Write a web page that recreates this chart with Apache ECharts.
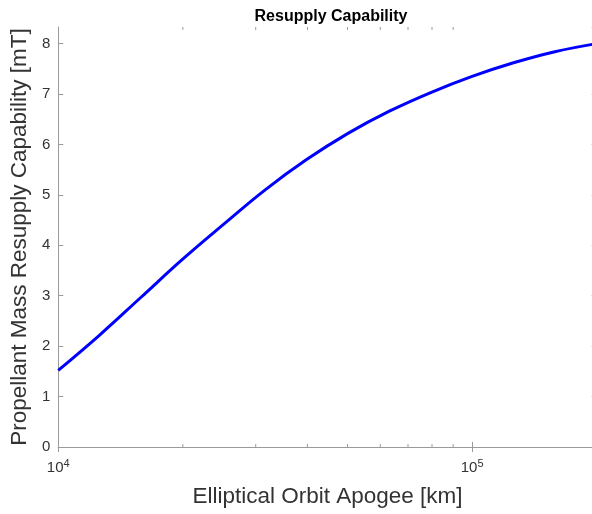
<!DOCTYPE html>
<html>
<head>
<meta charset="utf-8">
<script src="https://cdn.jsdelivr.net/npm/echarts@6/dist/echarts.min.js"></script>
<style>html,body{margin:0;padding:0;background:#fff;overflow:hidden;width:592px;height:514px}#c{width:600px;height:514px}</style>
</head>
<body>
<div id="c"></div>
<script>
const apogeeKm = [10000, 12589, 15849, 19953, 25119, 31623, 39811, 50119, 63096, 79433, 100000, 125893, 158489, 200000];
const resupplyMT = [1.52, 2.22, 2.97, 3.72, 4.42, 5.10, 5.70, 6.22, 6.66, 7.03, 7.35, 7.62, 7.84, 8.00];
const xMajorTicks = [10000, 100000];
const xMinorTicks = [20000, 30000, 40000, 50000, 60000, 70000, 80000, 90000];
const yTickLabels = ['0', '1', '2', '3', '4', '5', '6', '7', '8'];
const titleText = 'Resupply Capability';
const xTitle = 'Elliptical Orbit Apogee [km]';
const yTitle = 'Propellant Mass Resupply Capability [mT]';

const FONT = "'Liberation Sans', Arial, sans-serif";
const AX = '#9a9a9a';
const TXT = '#333333';

const chart = echarts.init(document.getElementById('c'), null, {renderer: 'canvas'});

function xLabel(v) {
  const e = Math.round(Math.log10(v));
  if (xMajorTicks.some(t => Math.abs(t - v) / t < 1e-6)) return '10{sup|' + e + '}';
  return '';
}
function yLabel(v) {
  const i = Math.round(v);
  if (Math.abs(v - i) < 1e-6 && yTickLabels.indexOf(String(i)) >= 0) return String(i);
  return '';
}

const xBase = {
  type: 'log', logBase: 10, min: 10000, max: 200000, gridIndex: 0,
  axisLine: {show: true, lineStyle: {color: AX, width: 1}},
  axisTick: {show: true, inside: true, length: 5, lineStyle: {color: AX}},
  splitLine: {show: false}, minorTick: {show: false}, minorSplitLine: {show: false}
};
const yBase = {
  type: 'value', min: 0, max: 8.33, interval: 1, gridIndex: 0,
  axisLine: {show: true, lineStyle: {color: AX, width: 1}},
  axisTick: {show: true, inside: true, length: 5, lineStyle: {color: AX}},
  splitLine: {show: false}
};

chart.setOption({
  animation: false,
  backgroundColor: '#ffffff',
  title: {
    text: titleText, left: 326, top: 4, textAlign: 'center',
    textStyle: {fontFamily: FONT, fontSize: 16, fontWeight: 'bold', color: '#000'}
  },
  grid: {left: 56.7, top: 27, width: 540, height: 420, containLabel: false},
  xAxis: [
    Object.assign({}, xBase, {
      position: 'bottom',
      name: xTitle, nameLocation: 'middle', nameGap: 38,
      nameTextStyle: {fontFamily: FONT, fontSize: 22.5, color: TXT},
      axisLabel: {
        show: true, margin: 11, formatter: xLabel, showMaxLabel: false,
        fontFamily: FONT, fontSize: 15, color: TXT,
        rich: {sup: {fontFamily: FONT, fontSize: 11, color: TXT, verticalAlign: 'top', padding: [0, 0, 9, 0]}}
      }
    }),
    Object.assign({}, xBase, {position: 'top', axisLabel: {show: false}})
  ],
  yAxis: [
    Object.assign({}, yBase, {
      position: 'left',
      name: yTitle, nameLocation: 'middle', nameGap: 24, nameRotate: 90,
      nameTextStyle: {fontFamily: FONT, fontSize: 22.5, color: TXT},
      axisLabel: {show: true, margin: 8, formatter: yLabel, showMaxLabel: false, fontFamily: FONT, fontSize: 15, color: TXT}
    }),
    Object.assign({}, yBase, {position: 'right', axisLabel: {show: false}})
  ],
  series: [{
    type: 'line', xAxisIndex: 0, yAxisIndex: 0,
    data: apogeeKm.map((x, i) => [x, resupplyMT[i]]),
    smooth: 0.4, showSymbol: false, symbol: 'none',
    lineStyle: {color: '#0000ff', width: 3}
  }]
});

// minor ticks on log axis (bottom and top), positioned through the axis scale
const g = [];
const yBottom = chart.convertToPixel({yAxisIndex: 0}, 0);
const yTop = chart.convertToPixel({yAxisIndex: 0}, 8.33);
xMinorTicks.forEach(v => {
  const px = chart.convertToPixel({xAxisIndex: 0}, v);
  g.push({type: 'line', shape: {x1: px, y1: yBottom, x2: px, y2: yBottom - 3}, style: {stroke: AX, lineWidth: 1}, silent: true});
  g.push({type: 'line', shape: {x1: px, y1: yTop, x2: px, y2: yTop + 3}, style: {stroke: AX, lineWidth: 1}, silent: true});
});
chart.setOption({graphic: g});
</script>
</body>
</html>
